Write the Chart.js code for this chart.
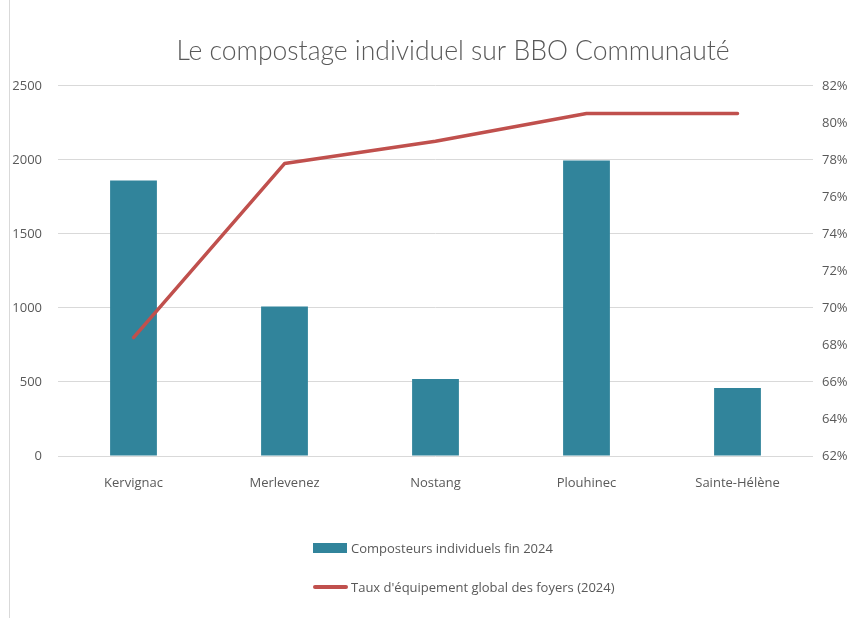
<!DOCTYPE html>
<html>
<head>
<meta charset="utf-8">
<script src="https://cdn.jsdelivr.net/npm/chart.js@4"></script>
<style>
    html, body { margin: 0; padding: 0; background: #fff; }
    #wrap { position: relative; width: 866px; height: 619px; overflow: hidden; }
    #frame { position: absolute; left: 9px; top: 0; width: 1px; height: 618px; background: #d9d9d9; }
    canvas { position: absolute; left: 0; top: 0; }
    .lg-text { position: absolute; left: 351px; height: 18px; line-height: 18px; font: 13px 'Open Sans', sans-serif; color: #595959; white-space: nowrap; }
    .lg-box { position: absolute; left: 313px; top: 543px; width: 34px; height: 10px; background: #31849b; }
    .lg-line { position: absolute; left: 313px; top: 585px; width: 35px; height: 4px; border-radius: 2px; background: #c0504d; }
</style>
</head>
<body>
<div id="wrap">
    <div id="frame"></div>
    <!-- canvas is a bit wider than the page so the title centres where the original does -->
    <canvas id="chart" width="906" height="619"></canvas>
    <div class="lg-box"></div>
    <div class="lg-text" style="top:539px">Composteurs individuels fin 2024</div>
    <div class="lg-line"></div>
    <div class="lg-text" style="top:578px">Taux d'équipement global des foyers (2024)</div>
</div>
<script>
// data
const communes = ['Kervignac', 'Merlevenez', 'Nostang', 'Plouhinec', 'Sainte-Hélène'];
const composteurs = [1860, 1010, 520, 1995, 460];
const tauxEquipement = [68.4, 77.8, 79.0, 80.5, 80.5];

const leftMin = 0, leftMax = 2500, leftStep = 500;
const rightMin = 62, rightMax = 82, rightStep = 2;

const grey = '#595959';
const tickFont = { family: "'Open Sans', sans-serif", size: 13 };

const ctx = document.getElementById('chart').getContext('2d');

new Chart(ctx, {
    data: {
        labels: communes,
        datasets: [{
            type: 'line',
            label: "Taux d'équipement global des foyers (2024)",
            data: tauxEquipement,
            yAxisID: 'y1',
            borderColor: '#c0504d',
            backgroundColor: '#c0504d',
            borderWidth: 3.5,
            borderCapStyle: 'round',
            borderJoinStyle: 'round',
            pointRadius: 0,
            tension: 0,
            order: 0
        }, {
            type: 'bar',
            label: 'Composteurs individuels fin 2024',
            data: composteurs,
            yAxisID: 'y',
            backgroundColor: '#31849b',
            borderWidth: 0,
            categoryPercentage: 0.31,
            barPercentage: 1,
            order: 1
        }]
    },
    options: {
        responsive: false,
        animation: false,
        layout: { padding: { left: 0, right: 0, top: 0, bottom: 123 } },
        plugins: {
            legend: { display: false },
            tooltip: { enabled: false },
            title: {
                display: true,
                text: 'Le compostage individuel sur BBO Communauté',
                color: grey,
                font: { family: "Lato, 'Open Sans', sans-serif", size: 26.5, weight: '300' },
                padding: { top: 36, bottom: 18 }
            }
        },
        scales: {
            x: {
                grid: { display: false },
                border: { display: false },
                ticks: { color: grey, font: tickFont, padding: 11, maxRotation: 0 },
                afterFit: s => { s.height = 40; }
            },
            y: {
                position: 'left',
                min: leftMin,
                max: leftMax,
                ticks: { stepSize: leftStep, color: grey, font: tickFont, padding: 16, callback: v => String(v) },
                grid: { color: '#d9d9d9', lineWidth: 1, drawTicks: false },
                border: { display: false },
                afterFit: s => { s.width = 58; }
            },
            y1: {
                position: 'right',
                min: rightMin,
                max: rightMax,
                ticks: {
                    stepSize: rightStep,
                    color: grey,
                    font: tickFont,
                    padding: 9,
                    callback: v => v + '%'
                },
                grid: { drawOnChartArea: false, drawTicks: false },
                border: { display: false },
                afterFit: s => { s.width = 93; }
            }
        }
    }
});
</script>
</body>
</html>
